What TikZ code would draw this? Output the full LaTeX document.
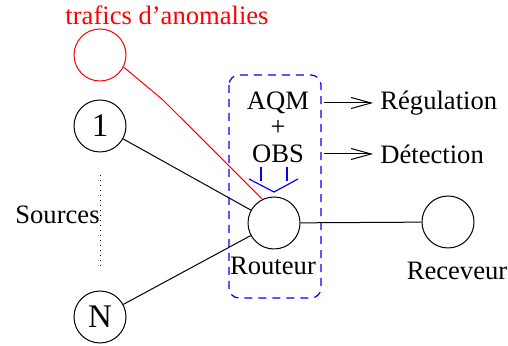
\documentclass[tikz,border=0pt]{standalone}
\usepackage{fontspec}
\setmainfont{Liberation Serif}
\usetikzlibrary{arrows.meta}
\tikzset{
  circ/.style={circle, draw, minimum size=26pt, inner sep=0pt, line width=0.5pt},
  lbl/.style={inner sep=0pt, font=\fontsize{13.3}{15}\selectfont},
  numlbl/.style={font=\fontsize{16.5}{18}\selectfont},
  conn/.style={line width=0.5pt},
  outarrow/.style={line width=0.5pt, -{Straight Barb[length=10pt, width=5.5pt, line width=0.5pt]}},
}
\begin{document}
\begin{tikzpicture}[x=0.5pt, y=-0.5pt]
\useasboundingbox (0,0) rectangle (508,346);
% nodes
\node[circ, draw=red] (red) at (100,55) {};
\node[lbl, text=red] (redlbl) at (167,15) {trafics d’anomalies};
\node[circ, numlbl] (n1) at (100,126) {1};
\node[circ, numlbl] (nN) at (100,317) {N};
\node[circ] (router) at (274,223) {};
\node[circ] (recv) at (448,222) {};
\node[lbl] (routlbl) at (273,266) {Routeur};
\node[lbl] (recvlbl) at (457,271) {Receveur};
\node[lbl, anchor=east] (src) at (100,215) {Sources};
\node[lbl] (aqm) at (278,103) {AQM};
\node[lbl] (plus) at (278,128) {+};
\node[lbl] (obs) at (278,154) {OBS};
\node[lbl, anchor=west] (reg) at (380,103) {Régulation};
\node[lbl, anchor=west] (det) at (380,154) {Détection};
% dotted sources line
\coordinate (d1) at (100,175);
\coordinate (d2) at (100,270);
\draw[dotted, line width=0.5pt] (d1) -- (d2);
% dashed box
\draw[blue, dashed, line width=0.6pt, dash pattern=on 4pt off 3pt, rounded corners=5pt] (229,75) rectangle (321,298);
% connectors
\coordinate (bend) at (163,100);
\draw[conn, red] (red.-27) -- (bend) -- (router.116);
\draw[conn] (n1) -- (router);
\draw[conn] (nN) -- (router);
\draw[conn] (router) -- (recv);
% outgoing arrows
\coordinate (a1s) at (324,103);
\coordinate (a1e) at (373,103);
\coordinate (a2s) at (324,154);
\coordinate (a2e) at (373,154);
\draw[outarrow] (a1s) -- (a1e);
\draw[outarrow] (a2s) -- (a2e);
% blue fork
\coordinate (f1t) at (261,167);
\coordinate (f1b) at (261,181);
\coordinate (f2t) at (287,167);
\coordinate (f2b) at (287,181);
\coordinate (vl) at (249,179);
\coordinate (vm) at (274,192);
\coordinate (vr) at (298,179);
\draw[blue, line width=0.6pt] (f1t) -- (f1b);
\draw[blue, line width=0.6pt] (f2t) -- (f2b);
\draw[blue, line width=0.6pt] (vl) -- (vm) -- (vr);
\end{tikzpicture}
\end{document}
